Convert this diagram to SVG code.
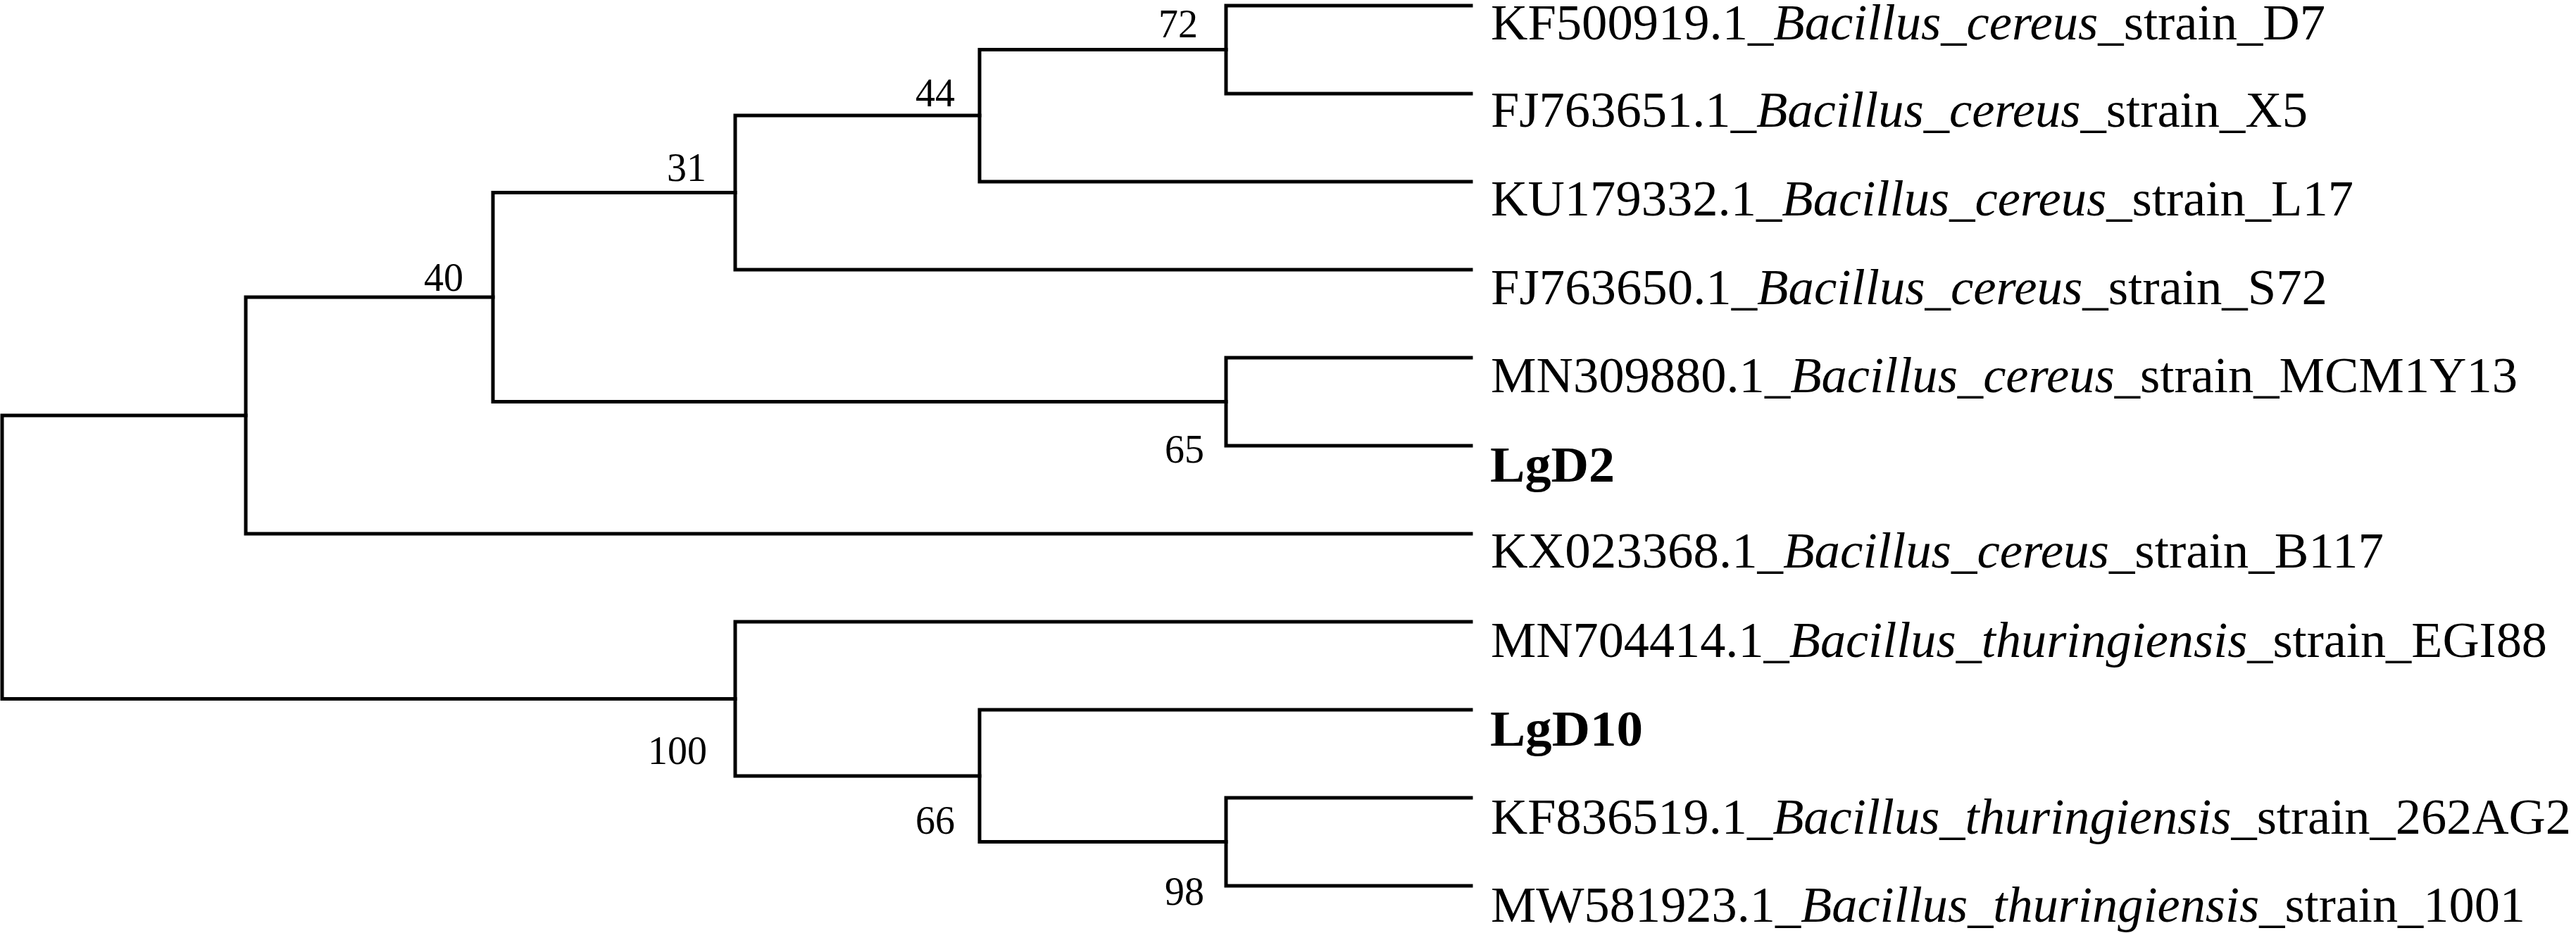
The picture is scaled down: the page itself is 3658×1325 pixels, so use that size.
<svg xmlns="http://www.w3.org/2000/svg" width="3658" height="1325" viewBox="0 0 3658 1325">
<style>
.br{fill:none;stroke:#000;stroke-width:5;stroke-linecap:square;stroke-linejoin:miter}
.lf{font-family:"Liberation Serif","Times New Roman",serif;font-size:72px;fill:#000}
.bold{font-weight:bold}
.it{font-style:italic}
.bs{font-family:"Liberation Serif","Times New Roman",serif;font-size:56px;fill:#000;text-anchor:end}
</style>
<rect width="3658" height="1325" fill="#fff"/>
<g id="connectors">
<path class="br" d="M1741,8 H2089 M1741,133 H2089 M1741,8 V133"/>
<path class="br" d="M1391,70.5 H1741 M1391,258 H2089 M1391,70.5 V258"/>
<path class="br" d="M1044,164 H1391 M1044,383 H2089 M1044,164 V383"/>
<path class="br" d="M1741,508 H2089 M1741,633 H2089 M1741,508 V633"/>
<path class="br" d="M700,273.5 H1044 M700,570.5 H1741 M700,273.5 V570.5"/>
<path class="br" d="M349,422 H700 M349,758 H2089 M349,422 V758"/>
<path class="br" d="M1741,1133 H2089 M1741,1258 H2089 M1741,1133 V1258"/>
<path class="br" d="M1391,1008 H2089 M1391,1195.5 H1741 M1391,1008 V1195.5"/>
<path class="br" d="M1044,883 H2089 M1044,1102 H1391 M1044,883 V1102"/>
<path class="br" d="M3,590 H349 M3,992.5 H1044 M3,590 V992.5"/>
</g>
<g id="leaf1"><text class="lf" x="2117" y="56" textLength="1185" lengthAdjust="spacingAndGlyphs">KF500919.1_<tspan class="it">Bacillus_cereus</tspan>_strain_D7</text></g>
<g id="leaf2"><text class="lf" x="2117" y="180" textLength="1160" lengthAdjust="spacingAndGlyphs">FJ763651.1_<tspan class="it">Bacillus_cereus</tspan>_strain_X5</text></g>
<g id="leaf3"><text class="lf" x="2117" y="306" textLength="1225" lengthAdjust="spacingAndGlyphs">KU179332.1_<tspan class="it">Bacillus_cereus</tspan>_strain_L17</text></g>
<g id="leaf4"><text class="lf" x="2117" y="432" textLength="1188" lengthAdjust="spacingAndGlyphs">FJ763650.1_<tspan class="it">Bacillus_cereus</tspan>_strain_S72</text></g>
<g id="leaf5"><text class="lf" x="2117" y="557" textLength="1458" lengthAdjust="spacingAndGlyphs">MN309880.1_<tspan class="it">Bacillus_cereus</tspan>_strain_MCM1Y13</text></g>
<g id="leaf6"><text class="lf bold" x="2116" y="684" textLength="177" lengthAdjust="spacingAndGlyphs">LgD2</text></g>
<g id="leaf7"><text class="lf" x="2117" y="806" textLength="1268" lengthAdjust="spacingAndGlyphs">KX023368.1_<tspan class="it">Bacillus_cereus</tspan>_strain_B117</text></g>
<g id="leaf8"><text class="lf" x="2117" y="933" textLength="1500" lengthAdjust="spacingAndGlyphs">MN704414.1_<tspan class="it">Bacillus_thuringiensis</tspan>_strain_EGI88</text></g>
<g id="leaf9"><text class="lf bold" x="2116" y="1059" textLength="217" lengthAdjust="spacingAndGlyphs">LgD10</text></g>
<g id="leaf10"><text class="lf" x="2117" y="1184" textLength="1534" lengthAdjust="spacingAndGlyphs">KF836519.1_<tspan class="it">Bacillus_thuringiensis</tspan>_strain_262AG2</text></g>
<g id="leaf11"><text class="lf" x="2117" y="1309" textLength="1469" lengthAdjust="spacingAndGlyphs">MW581923.1_<tspan class="it">Bacillus_thuringiensis</tspan>_strain_1001</text></g>
<g id="bs72"><text class="bs" x="1701" y="53">72</text></g>
<g id="bs44"><text class="bs" x="1356" y="151">44</text></g>
<g id="bs31"><text class="bs" x="1003" y="257">31</text></g>
<g id="bs40"><text class="bs" x="658" y="413">40</text></g>
<g id="bs65"><text class="bs" x="1710" y="657">65</text></g>
<g id="bs100"><text class="bs" x="1004" y="1085">100</text></g>
<g id="bs66"><text class="bs" x="1356" y="1184">66</text></g>
<g id="bs98"><text class="bs" x="1710" y="1285">98</text></g>
</svg>
